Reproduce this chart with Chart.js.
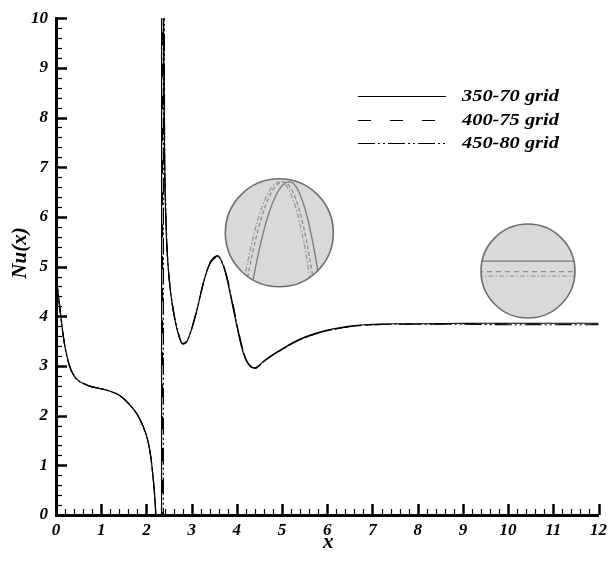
<!DOCTYPE html>
<html>
<head>
<meta charset="utf-8">
<title>Nu(x) – grid comparison</title>
<script src="https://cdn.jsdelivr.net/npm/chart.js@4.4.0/dist/chart.umd.min.js"></script>
<style>
  html, body { margin: 0; padding: 0; background: #fff; }
  #wrap { width: 612px; height: 561px; position: relative; }
</style>
</head>
<body>
<div id="wrap"><canvas id="nuChart" width="612" height="561"></canvas></div>
<script>
// local Nusselt number along the wall, three grids
const xs = [0, 0.02, 0.05, 0.1, 0.15, 0.2, 0.3, 0.4, 0.5, 0.6, 0.8, 1.0, 1.2, 1.4, 1.6, 1.8, 1.9, 2.0, 2.05, 2.1, 2.15, 2.2, 2.25, 2.3,
  2.33, 2.34, 2.35, 2.36, 2.37, 2.38, 2.4, 2.42, 2.45, 2.5, 2.55, 2.6, 2.7, 2.8, 2.9, 3.0, 3.1, 3.2, 3.3, 3.4, 3.5, 3.58, 3.7, 3.8, 3.9,
  4.0, 4.1, 4.2, 4.3, 4.4, 4.5, 4.6, 4.8, 5.0, 5.2, 5.5, 6.0, 6.5, 7.0, 7.5, 8.0, 9.0, 10.0, 11.0, 12.0];

const nu350 = [4.95, 4.72, 4.45, 4.05, 3.68, 3.38, 3.0, 2.8, 2.7, 2.65, 2.58, 2.54, 2.49, 2.41, 2.25, 2.02, 1.84, 1.6, 1.42, 1.15, 0.74, 0.16, -0.8, -3.0,
  -60, 60, 20, 14, 11.5, 9.6, 7.3, 6.2, 5.45, 4.78, 4.38, 4.08, 3.66, 3.44, 3.5, 3.74, 4.06, 4.44, 4.8, 5.05, 5.18, 5.21, 5.02, 4.68, 4.24,
  3.8, 3.4, 3.12, 2.99, 2.96, 3.02, 3.1, 3.23, 3.34, 3.45, 3.58, 3.72, 3.8, 3.84, 3.85, 3.85, 3.86, 3.86, 3.86, 3.86];

const nu400 = [4.95, 4.72, 4.45, 4.05, 3.68, 3.38, 3.0, 2.8, 2.7, 2.65, 2.58, 2.54, 2.49, 2.41, 2.25, 2.02, 1.84, 1.6, 1.42, 1.15, 0.74, 0.16, -0.8, -3.0,
  -10, -14, -60, 60, 12.5, 9.9, 7.4, 6.25, 5.47, 4.79, 4.39, 4.09, 3.67, 3.45, 3.52, 3.76, 4.08, 4.46, 4.82, 5.07, 5.19, 5.22, 5.05, 4.72, 4.3,
  3.86, 3.45, 3.15, 3.0, 2.95, 3.01, 3.09, 3.22, 3.33, 3.44, 3.57, 3.71, 3.79, 3.83, 3.84, 3.84, 3.85, 3.85, 3.84, 3.84];

const nu450 = [4.94, 4.71, 4.44, 4.04, 3.67, 3.37, 2.99, 2.8, 2.7, 2.65, 2.58, 2.54, 2.49, 2.41, 2.25, 2.02, 1.84, 1.6, 1.42, 1.14, 0.72, 0.12, -0.85, -3.1,
  -10, -15, -30, -45, -60, 60, 8.0, 6.4, 5.5, 4.8, 4.4, 4.1, 3.68, 3.45, 3.51, 3.75, 4.07, 4.45, 4.81, 5.06, 5.16, 5.2, 5.04, 4.71, 4.28,
  3.84, 3.43, 3.14, 3.0, 2.95, 3.01, 3.09, 3.22, 3.33, 3.44, 3.57, 3.71, 3.79, 3.83, 3.84, 3.84, 3.84, 3.83, 3.83, 3.83];

const gridNames = ['350-70 grid', '400-75 grid', '450-80 grid'];
const xRange = [0, 12];
const yRange = [0, 10];

const SERIF = "'Liberation Serif', 'Times New Roman', serif";
const bi = size => `italic bold ${size}px ${SERIF}`;
const dashes = [[], [13, 19], [17, 3, 2, 3, 2, 3]];

const toPts = ys => xs.map((x, i) => ({ x, y: ys[i] }));

// tecplot-style ticks pointing into the plot, 0.2 minor spacing
const innerTicks = {
  id: 'innerTicks',
  afterDraw(chart) {
    const { ctx, chartArea: a, scales: { x, y } } = chart;
    ctx.save();
    ctx.strokeStyle = '#000';
    ctx.lineCap = 'butt';
    for (let i = 1; i <= 60; i++) {
      const major = i % 5 === 0;
      const px = Math.round(x.getPixelForValue(i / 5)) + 0.5;
      ctx.lineWidth = major ? 2.5 : 1.2;
      ctx.beginPath();
      ctx.moveTo(px, a.bottom);
      ctx.lineTo(px, a.bottom - (major ? 11 : 6));
      ctx.stroke();
    }
    for (let i = 1; i <= 50; i++) {
      const major = i % 5 === 0;
      const py = Math.round(y.getPixelForValue(i / 5)) + 0.5;
      ctx.lineWidth = major ? 2.5 : 1.2;
      ctx.beginPath();
      ctx.moveTo(a.left, py);
      ctx.lineTo(a.left + (major ? 11 : 6), py);
      ctx.stroke();
    }
    ctx.restore();
  }
};

// axis titles
const axisTitles = {
  id: 'axisTitles',
  afterDraw(chart) {
    const { ctx, chartArea: a } = chart;
    ctx.save();
    ctx.fillStyle = '#000';
    ctx.font = bi(21);
    ctx.textAlign = 'center';
    ctx.textBaseline = 'middle';
    ctx.fillText('x', (a.left + a.right) / 2 + 1, 543);
    ctx.translate(21, 253);
    ctx.rotate(-Math.PI / 2);
    ctx.fillText('Nu(x)', 0, 0);
    ctx.restore();
  }
};

// line-sample legend, upper right
const lineLegend = {
  id: 'lineLegend',
  afterDraw(chart) {
    const { ctx } = chart;
    const rows = [96, 120, 143];
    ctx.save();
    chart.data.datasets.forEach((ds, i) => {
      ctx.strokeStyle = '#000';
      ctx.lineWidth = 1.2;
      ctx.setLineDash(ds.borderDash);
      ctx.beginPath();
      ctx.moveTo(358, rows[i] + 0.5);
      ctx.lineTo(446, rows[i] + 0.5);
      ctx.stroke();
      ctx.setLineDash([]);
      // wide bold italic labels
      ctx.save();
      ctx.translate(462, rows[i] + 1);
      ctx.scale(1.2, 1);
      ctx.fillStyle = '#000';
      ctx.font = bi(17);
      ctx.textBaseline = 'middle';
      ctx.fillText(ds.label, 0, 0);
      ctx.restore();
    });
    ctx.restore();
  }
};

// magnified views: peak of the second maximum and the fully developed tail
function lens(ctx, cx, cy, r, body) {
  ctx.save();
  ctx.beginPath();
  ctx.arc(cx, cy, r, 0, Math.PI * 2);
  ctx.fillStyle = '#d9d9d9';
  ctx.fill();
  ctx.save();
  ctx.clip();
  body();
  ctx.restore();
  ctx.setLineDash([]);
  ctx.beginPath();
  ctx.arc(cx, cy, r, 0, Math.PI * 2);
  ctx.lineWidth = 1.6;
  ctx.strokeStyle = '#6e6e6e';
  ctx.stroke();
  ctx.restore();
}

const lenses = {
  id: 'lenses',
  afterDatasetsDraw(chart) {
    const { ctx, scales: { x, y } } = chart;
    const shades = ['#7a7a7a', '#8c8c8c', '#999'];
    const small = [[], [4, 2.5], [5, 2, 1.5, 2]];

    // lens over the peak
    const c1x = x.getPixelForValue(4.94), c1y = y.getPixelForValue(5.68);
    lens(ctx, c1x, c1y, 54, () => {
      const shift = [4, -2, -5];
      shift.forEach((dx, i) => {
        const topX = c1x + 6 + dx, topY = c1y - 51;
        ctx.strokeStyle = shades[i];
        ctx.lineWidth = 1.3;
        ctx.setLineDash(small[i]);
        ctx.beginPath();
        for (let t = -48; t <= 44; t += 1) {
          const k = t < 0 ? 0.075 : 0.11;
          const px = topX + t, py = topY + k * t * t;
          if (t === -48) ctx.moveTo(px, py); else ctx.lineTo(px, py);
        }
        ctx.stroke();
      });
    });

    // lens over the plateau
    const c2x = x.getPixelForValue(10.44), c2y = y.getPixelForValue(4.91);
    lens(ctx, c2x, c2y, 47, () => {
      const offs = [-10, 0.5, 5];
      offs.forEach((dy, i) => {
        ctx.strokeStyle = shades[i];
        ctx.lineWidth = 1.3;
        ctx.setLineDash(i === 1 ? [5, 4] : small[i]);
        ctx.beginPath();
        ctx.moveTo(c2x - 50, c2y + dy);
        ctx.lineTo(c2x + 50, c2y + dy);
        ctx.stroke();
      });
    });
  }
};

const tickFont = { family: SERIF, style: 'italic', weight: 'bold', size: 17 };

new Chart(document.getElementById('nuChart'), {
  type: 'line',
  data: {
    datasets: [nu350, nu400, nu450].map((ys, i) => ({
      label: gridNames[i],
      data: toPts(ys),
      borderColor: '#000',
      borderWidth: 1.2,
      borderDash: dashes[i],
      pointRadius: 0,
      fill: false,
      cubicInterpolationMode: 'monotone'
    }))
  },
  options: {
    responsive: false,
    animation: false,
    devicePixelRatio: 1,
    layout: { padding: { top: 15, right: 12, left: 0, bottom: 0 } },
    plugins: { legend: { display: false }, tooltip: { enabled: false } },
    scales: {
      x: {
        type: 'linear',
        min: xRange[0], max: xRange[1],
        afterFit: s => { s.height = 46; },
        ticks: { stepSize: 1, autoSkip: false, color: '#000', font: tickFont, padding: 5, maxRotation: 0 },
        grid: { display: false, drawTicks: false },
        border: { display: true, color: '#000', width: 3 }
      },
      y: {
        type: 'linear',
        min: yRange[0], max: yRange[1],
        afterFit: s => { s.width = 56; },
        ticks: { stepSize: 1, autoSkip: false, color: '#000', font: tickFont, padding: 8 },
        grid: { display: false, drawTicks: false },
        border: { display: true, color: '#000', width: 3 }
      }
    }
  },
  plugins: [lenses, innerTicks, axisTitles, lineLegend]
});
</script>
</body>
</html>
